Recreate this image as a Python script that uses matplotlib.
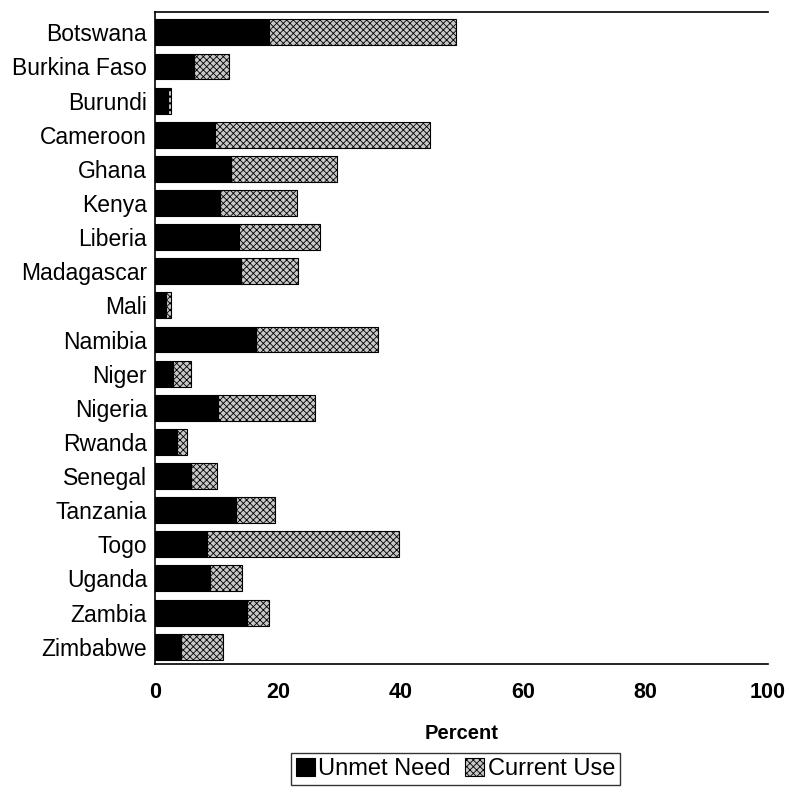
import numpy as np
import matplotlib.pyplot as plt

plt.rcParams['font.family'] = ['Liberation Sans', 'DejaVu Sans']
plt.rcParams['hatch.linewidth'] = 0.6

# data (percent of women)
countries = ['Botswana', 'Burkina Faso', 'Burundi', 'Cameroon', 'Ghana', 'Kenya',
             'Liberia', 'Madagascar', 'Mali', 'Namibia', 'Niger', 'Nigeria',
             'Rwanda', 'Senegal', 'Tanzania', 'Togo', 'Uganda', 'Zambia', 'Zimbabwe']
unmet_need = [18.5, 6.3, 2.0, 9.7, 12.4, 10.6, 13.6, 14.0, 1.8, 16.5, 2.8, 10.2,
              3.5, 5.8, 13.2, 8.4, 8.9, 15.0, 4.1]
current_use = [30.6, 5.7, 0.6, 35.2, 17.2, 12.5, 13.2, 9.3, 0.7, 19.9, 3.0, 15.8,
               1.6, 4.3, 6.3, 31.4, 5.3, 3.5, 7.0]
xticks = [0, 20, 40, 60, 80, 100]

fig = plt.figure(figsize=(7.89, 7.93), dpi=100)
ax = fig.add_axes([0.197, 0.163, 0.776, 0.822])

y = np.arange(len(countries))
ax.barh(y, unmet_need, height=0.76, color='black', edgecolor='black',
        linewidth=0.8, label='Unmet Need')
ax.barh(y, current_use, left=unmet_need, height=0.76, color='#c8c8c8',
        edgecolor='black', hatch='xxxxx', linewidth=0.8, label='Current Use')

ax.set_ylim(len(countries) - 0.5, -0.6)
ax.set_xlim(0, 100)
ax.set_yticks(y)
ax.set_yticklabels(countries, fontsize=16.5)
ax.set_xticks(xticks)
ax.set_xticklabels([str(t) for t in xticks], fontsize=15.5, fontweight='bold')
ax.tick_params(axis='both', length=0)
ax.tick_params(axis='x', pad=13)
ax.tick_params(axis='y', pad=6)
ax.set_xlabel('Percent', fontsize=14.5, fontweight='bold', labelpad=15)

ax.spines['right'].set_visible(False)
for s in ['left', 'bottom', 'top']:
    ax.spines[s].set_linewidth(1.2)

ax.legend(loc='upper center', bbox_to_anchor=(0.49, -0.137), ncol=2,
          fontsize=17, frameon=True, fancybox=False, edgecolor='black',
          handlelength=0.8, handleheight=0.8, handletextpad=0.15,
          columnspacing=0.6, borderpad=0.2, borderaxespad=0)

fig.savefig('out.png', dpi=100)
